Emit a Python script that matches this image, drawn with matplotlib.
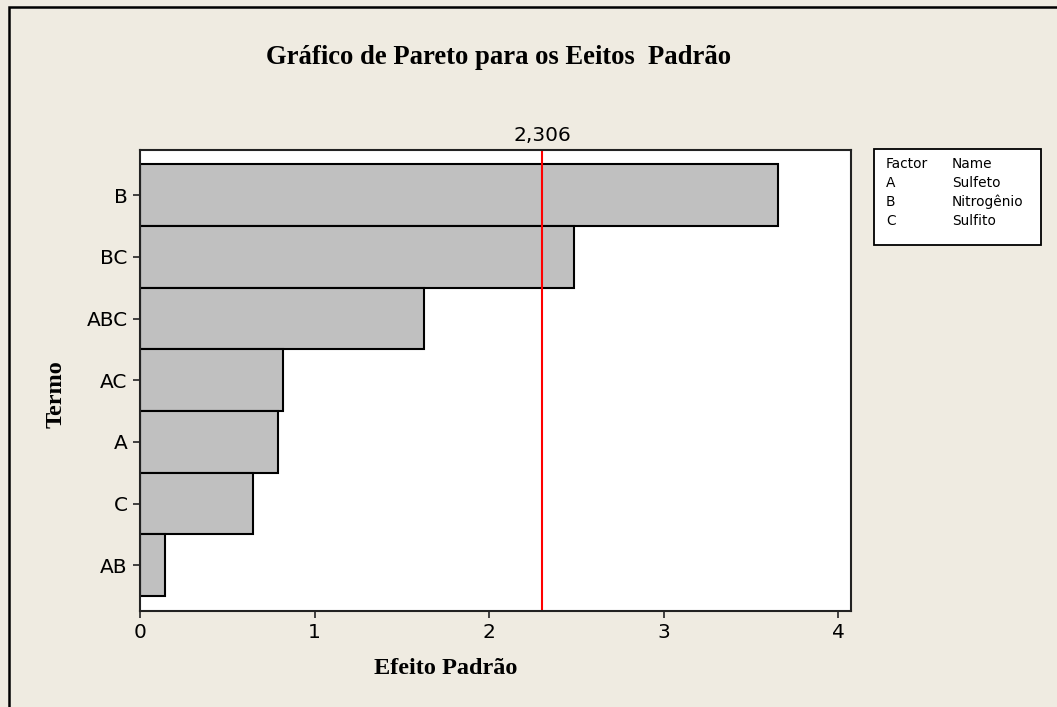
import matplotlib.pyplot as plt
from matplotlib.patches import Rectangle

terms = ["B", "BC", "ABC", "AC", "A", "C", "AB"]
effects = [3.655, 2.489, 1.627, 0.818, 0.789, 0.649, 0.145]
threshold = 2.306
factor_codes = ["A", "B", "C"]
factor_names = ["Sulfeto", "Nitrogênio", "Sulfito"]

bg = "#efebe1"
serif = ["Liberation Serif", "DejaVu Serif"]

fig = plt.figure(figsize=(10.57, 7.07), dpi=100, facecolor=bg)
fig.patches.append(Rectangle((9 / 1057, -0.05), 1.2, 1 - 6.5 / 707 + 0.05,
                             transform=fig.transFigure, fill=False,
                             edgecolor="black", linewidth=1.8))

ax = fig.add_axes([140 / 1057, 1 - 611 / 707, 711 / 1057, 461.5 / 707])
ax.set_facecolor("white")

pos = list(range(len(terms)))
ax.barh(pos, effects, height=1.0, color="#c0c0c0", edgecolor="black", linewidth=1.5)
ax.axvline(threshold, color="red", linewidth=1.5)
ax.text(threshold, 1.01, f"{threshold}".replace(".", ","), transform=ax.get_xaxis_transform(),
        ha="center", va="bottom", fontsize=14.5)

ax.set_xlim(0, 4.074)
ax.set_ylim(6.74, -0.74)
ax.set_yticks(pos)
ax.set_yticklabels(terms)
ax.set_xticks([0, 1, 2, 3, 4])
ax.tick_params(labelsize=14.5, length=5, width=1.3, color="#333333", pad=4)
for s in ax.spines.values():
    s.set_linewidth(1.5)
    s.set_color("#222222")

# axis titles placed like the original
fig.text(446 / 1057, 1 - 668 / 707, "Efeito Padrão", ha="center", va="center",
         fontsize=17.5, fontweight="bold", family=serif)
fig.text(56 / 1057, 1 - 394 / 707, "Termo", ha="center", va="center", rotation=90,
         fontsize=17.5, fontweight="bold", family=serif)

fig.text(499 / 1057, 1 - 58 / 707, "Gráfico de Pareto para os Eeitos  Padrão",
         ha="center", va="center", fontsize=19.2, fontweight="bold", family=serif)

# factor legend box
fig.patches.append(Rectangle((874 / 1057, 1 - 245 / 707), 167 / 1057, 96 / 707,
                             transform=fig.transFigure, facecolor="white",
                             edgecolor="black", linewidth=1.3))
rows = [("Factor", "Name")] + list(zip(factor_codes, factor_names))
for i, (code, name) in enumerate(rows):
    y = 1 - (164 + 19 * i) / 707
    fig.text(886 / 1057, y, code, ha="left", va="center", fontsize=9.9)
    fig.text(952 / 1057, y, name, ha="left", va="center", fontsize=9.9)

fig.savefig("out.png", dpi=100, facecolor=bg)
